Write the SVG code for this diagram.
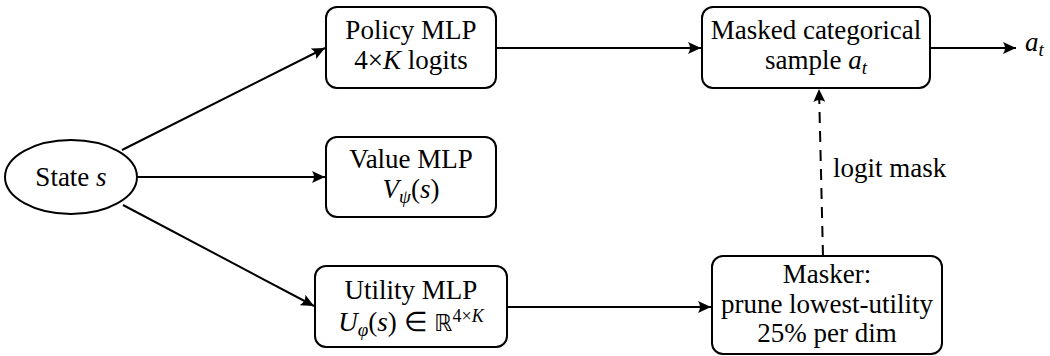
<svg xmlns="http://www.w3.org/2000/svg" width="1050" height="356" viewBox="0 0 1050 356">
  <style>
    .box { fill: #fff; stroke: #000; stroke-width: 2; }
    .edge { fill: none; stroke: #000; stroke-width: 2; }
    .dash { stroke-dasharray: 11 8; }
    .t { font-family: "Liberation Serif", "Times New Roman", serif; font-size: 27px; fill: #000; }
    .c { text-anchor: middle; }
    .i { font-style: italic; }
    .sub { font-size: 19px; }
    .bb { font-family: "DejaVu Sans", sans-serif; font-size: 23px; }
  </style>
  <defs>
    <marker id="arrow" markerUnits="userSpaceOnUse" markerWidth="14" markerHeight="12" refX="13" refY="6" orient="auto">
      <path d="M0,0 Q4,6 0,12 L13,6 Z" fill="#000"/>
    </marker>
  </defs>

  <!-- connectors -->
  <g id="connectors">
    <line class="edge" x1="122" y1="150" x2="325" y2="48" marker-end="url(#arrow)"/>
    <line class="edge" x1="138" y1="177" x2="325" y2="177" marker-end="url(#arrow)"/>
    <line class="edge" x1="123" y1="205" x2="314" y2="306" marker-end="url(#arrow)"/>
    <line class="edge" x1="496" y1="48" x2="701" y2="48" marker-end="url(#arrow)"/>
    <line class="edge" x1="507" y1="307" x2="711" y2="307" marker-end="url(#arrow)"/>
    <line class="edge" x1="930" y1="48" x2="1016" y2="48" marker-end="url(#arrow)"/>
    <line class="edge dash" x1="823" y1="256" x2="819" y2="89" marker-end="url(#arrow)"/>
    <text class="t" x="833" y="177">logit mask</text>
    <text class="t" x="1025" y="51"><tspan class="i">a</tspan><tspan class="i sub" dy="5">t</tspan></text>
  </g>

  <!-- state -->
  <g id="state">
    <ellipse class="box" cx="71" cy="177" rx="66" ry="37"/>
    <text class="t c" x="71" y="186">State <tspan class="i">s</tspan></text>
  </g>

  <!-- policy head -->
  <g id="policy">
    <rect class="box" x="326" y="7" width="170" height="81" rx="11"/>
    <text class="t c" x="411" y="39">Policy MLP</text>
    <text class="t c" x="411" y="69">4×<tspan class="i">K</tspan> logits</text>
  </g>

  <!-- value head -->
  <g id="value">
    <rect class="box" x="326" y="137" width="170" height="80" rx="11"/>
    <text class="t c" x="411" y="168">Value MLP</text>
    <text class="t c" x="411" y="198"><tspan class="i">V</tspan><tspan class="i sub" dy="5">ψ</tspan><tspan dy="-5">(</tspan><tspan class="i">s</tspan>)</text>
  </g>

  <!-- utility head -->
  <g id="utility">
    <rect class="box" x="315" y="266" width="192" height="81" rx="11"/>
    <text class="t c" x="411" y="299">Utility MLP</text>
    <text class="t c" x="411" y="331"><tspan class="i">U</tspan><tspan class="i sub" dy="5">φ</tspan><tspan dy="-5">(</tspan><tspan class="i">s</tspan>) ∈ <tspan class="bb">ℝ</tspan><tspan font-size="18" dy="-9">4×</tspan><tspan class="i" font-size="18">K</tspan></text>
  </g>

  <!-- masked sampler -->
  <g id="sampler">
    <rect class="box" x="702" y="7" width="228" height="81" rx="11"/>
    <text class="t c" x="816" y="39">Masked categorical</text>
    <text class="t c" x="816" y="69">sample <tspan class="i">a</tspan><tspan class="i sub" dy="5">t</tspan></text>
  </g>

  <!-- masker -->
  <g id="masker">
    <rect class="box" x="712" y="256" width="230" height="98" rx="11"/>
    <text class="t c" x="827" y="283">Masker:</text>
    <text class="t c" x="827" y="313">prune lowest-utility</text>
    <text class="t c" x="827" y="342">25% per dim</text>
  </g>
</svg>
